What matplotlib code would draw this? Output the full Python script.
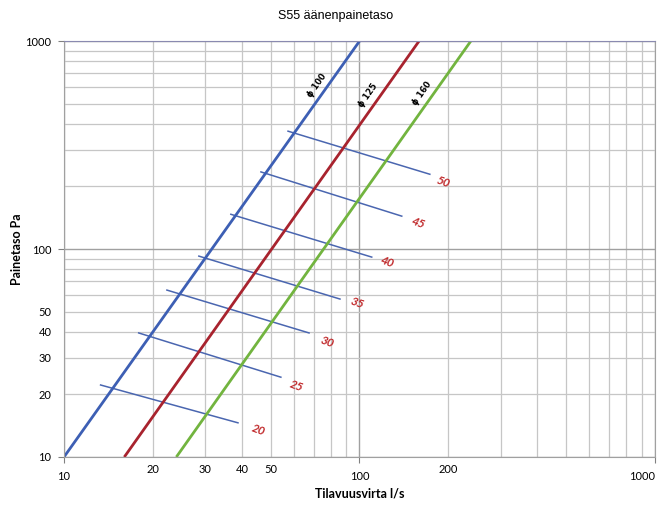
import numpy as np
import matplotlib
matplotlib.use("Agg")
import matplotlib.pyplot as plt

# Kanavakäyrät (painetaso vs tilavuusvirta), alku- ja loppupisteet
duct_names = ["ϕ 100", "ϕ 125", "ϕ 160"]
duct_q = [[10, 100], [16, 159], [24, 238]]
duct_p = [[10, 1000], [10, 1000], [10, 1000]]
duct_colors = ["#3d5fb4", "#a8232e", "#72b43f"]
duct_label_pos = [(71.8, 614), (107, 550), (163, 562)]

# Äänitasoviivat (dB)
db_levels = ["20", "25", "30", "35", "40", "45", "50"]
db_q = [[13.3, 38.8], [17.9, 54.2], [22.3, 67.5], [28.6, 85.9],
        [36.7, 110], [46.4, 139], [57.3, 173]]
db_p = [[22.2, 14.6], [39.5, 24.2], [63.5, 39.5], [92.5, 57.5],
        [147, 91.5], [235, 144], [369, 229]]
db_label_pos = [(45.4, 13.5), (61.4, 21.9), (77.6, 35.7), (98, 55),
                (124, 86.6), (158, 133), (192, 210)]

x_labels = [20, 30, 40, 50, 200]
y_labels = [20, 30, 40, 50]

plt.rcParams['font.family'] = ['Lato', 'DejaVu Sans']

fig = plt.figure(figsize=(6.65, 5.08), dpi=100)
ax = fig.add_axes([0.0962, 0.1004, 0.8888, 0.8186])
ax.set_xscale('log')
ax.set_yscale('log')
ax.set_xlim(10, 1000)
ax.set_ylim(10, 1000)

# ruudukko
ax.grid(True, which='major', color='#a0a0a0', linewidth=1.0)
ax.grid(True, which='minor', color='#c6c6c6', linewidth=0.9)
ax.set_xticks([10, 100, 1000], labels=["10", "100", "1000"])
ax.set_yticks([10, 100, 1000], labels=["10", "100", "1000"])
ax.xaxis.set_minor_locator(matplotlib.ticker.LogLocator(subs=np.arange(2, 10)))
ax.yaxis.set_minor_locator(matplotlib.ticker.LogLocator(subs=np.arange(2, 10)))
ax.xaxis.set_minor_formatter(matplotlib.ticker.FuncFormatter(
    lambda v, p: str(int(round(v))) if int(round(v)) in x_labels else ""))
ax.yaxis.set_minor_formatter(matplotlib.ticker.FuncFormatter(
    lambda v, p: str(int(round(v))) if int(round(v)) in y_labels else ""))
ax.tick_params(which='major', length=4, color='#808080', labelsize=8)
ax.tick_params(which='minor', length=0, labelsize=8)
ax.tick_params(axis='x', which='major', pad=6)
ax.tick_params(axis='x', which='minor', pad=5)
ax.tick_params(axis='y', which='major', pad=5)
ax.tick_params(axis='y', which='minor', pad=9)
ax.get_xticklabels()[-1].set_horizontalalignment('right')

for s in ax.spines.values():
    s.set_color('#a0a0a0')
ax.spines['top'].set_color('#8a8ab0')
ax.set_axisbelow(True)

for q, p in zip(db_q, db_p):
    ax.plot(q, p, color='#4a66b0', linewidth=1.1)

for q, p, col in zip(duct_q, duct_p, duct_colors):
    ax.plot(q, p, color=col, linewidth=2.0, solid_capstyle='butt')

for name, (x, y) in zip(duct_names, duct_label_pos):
    ax.text(x, y, name, fontsize=6, rotation=55, ha='center', va='center',
            fontweight='bold', family=['DejaVu Sans'])

for lab, (x, y) in zip(db_levels, db_label_pos):
    ax.text(x, y, lab, fontsize=8.5, color='#c0282a', rotation=-20,
            ha='center', va='center', fontweight='bold', style='italic')

fig.text(0.504, 0.968, "S55 äänenpainetaso", ha='center', va='center',
         fontsize=9, family=['Liberation Sans'])
ax.set_xlabel("Tilavuusvirta l/s", fontsize=9, fontweight='bold', labelpad=4)
ax.set_ylabel("Painetaso Pa", fontsize=9, fontweight='bold', labelpad=2)

fig.savefig("out.png", dpi=100)
